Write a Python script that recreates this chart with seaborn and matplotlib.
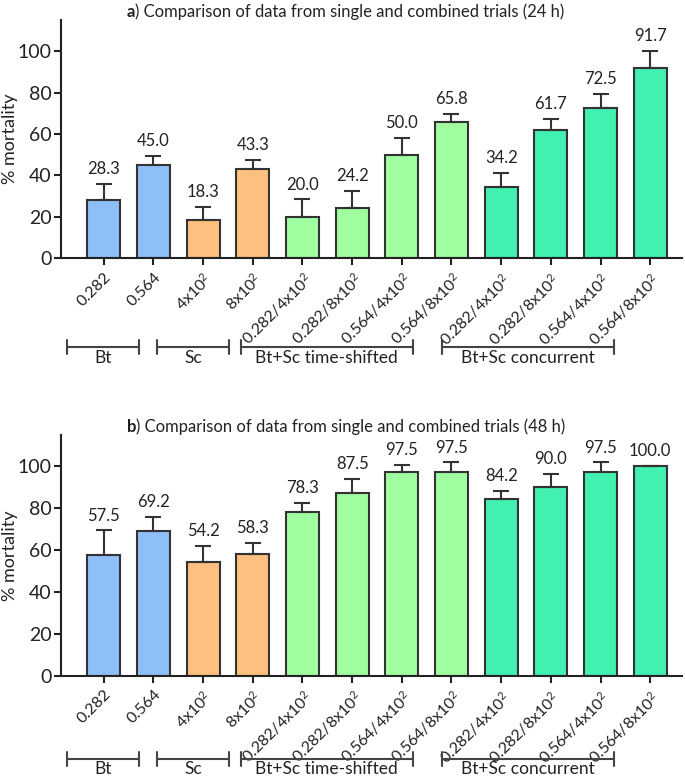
import matplotlib
matplotlib.use("Agg")
import matplotlib.pyplot as plt
import matplotlib.transforms as mtransforms
import seaborn as sns
import numpy as np
import pandas as pd

# data
labels = ["0.282", "0.564", r"4x10$^2$", r"8x10$^2$",
          r"0.282/4x10$^2$", r"0.282/8x10$^2$", r"0.564/4x10$^2$", r"0.564/8x10$^2$",
          r"0.282/4x10$^2$ ", r"0.282/8x10$^2$ ", r"0.564/4x10$^2$ ", r"0.564/8x10$^2$ "]
mort_24h = [28.3, 45.0, 18.3, 43.3, 20.0, 24.2, 50.0, 65.8, 34.2, 61.7, 72.5, 91.7]
err_24h = [7.5, 4.4, 6.3, 4.0, 8.4, 8.1, 7.9, 3.7, 7.2, 5.4, 7.0, 8.2]
mort_48h = [57.5, 69.2, 54.2, 58.3, 78.3, 87.5, 97.5, 97.5, 84.2, 90.0, 97.5, 100.0]
err_48h = [11.9, 6.6, 8.0, 5.2, 4.4, 6.3, 3.1, 4.4, 3.9, 6.6, 4.4, 0.0]
groups = ["Bt", "Bt", "Sc", "Sc", "ts", "ts", "ts", "ts", "cc", "cc", "cc", "cc"]
group_colors = {"Bt": "#8FBFF8", "Sc": "#FFBF7E", "ts": "#A0FFA0", "cc": "#42F0B0"}
brackets = [("Bt", -0.74, 0.70), ("Sc", 1.08, 2.52), ("Bt+Sc time-shifted", 2.76, 6.22),
            ("Bt+Sc concurrent", 6.8, 10.28)]

sns.set_style("ticks")
plt.rcParams["font.family"] = ["Lato", "DejaVu Sans"]
plt.rcParams["mathtext.fontset"] = "custom"
plt.rcParams["mathtext.rm"] = "Lato"
plt.rcParams["mathtext.it"] = "Lato"

edge = "#333333"
fig = plt.figure(figsize=(6.85, 7.82), dpi=100)

panels = [
    ("a", "24 h", mort_24h, err_24h, [0.0891, 0.6697, 0.9065, 0.3047], 0.985, 0.556),
    ("b", "48 h", mort_48h, err_48h, [0.0891, 0.1359, 0.9065, 0.3078], 0.454, 0.03),
]

for letter, hours, vals, errs, pos, title_y, br_y in panels:
    ax = fig.add_axes(pos)
    df = pd.DataFrame({"label": labels, "value": vals, "group": groups})
    sns.barplot(data=df, x="label", y="value", hue="group", palette=group_colors,
                dodge=False, legend=False, width=0.66, saturation=1, edgecolor=edge,
                linewidth=1.5, ax=ax)
    x = np.arange(len(vals))
    ax.errorbar(x, vals, yerr=[np.zeros(len(errs)), errs], fmt="none", ecolor=edge,
                elinewidth=1.5, capsize=6, capthick=1.5, zorder=1)
    for xi, v, e in zip(x, vals, errs):
        ax.annotate(f"{v:.1f}", (xi, v + e), xytext=(0, 5), textcoords="offset points",
                    ha="center", va="bottom", fontsize=12, color="#222222")
    ax.set_xlim(-0.86, 11.64)
    ax.set_ylim(0, 115)
    ax.set_yticks([0, 20, 40, 60, 80, 100])
    ax.set_xlabel("")
    ax.set_ylabel("% mortality", fontsize=13, color="#222222")
    ax.yaxis.set_label_coords(-0.07, 0.5)
    ax.tick_params(axis="y", labelsize=14, width=1.5, length=5, colors="#222222", pad=2)
    ax.tick_params(axis="x", labelsize=11.5, width=1.5, length=5, colors="#222222")
    plt.setp(ax.get_xticklabels(), rotation=45, ha="right", rotation_mode="anchor")
    sns.despine(ax=ax)
    for s in ["left", "bottom"]:
        ax.spines[s].set_linewidth(1.5)
        ax.spines[s].set_color("#222222")
    t = fig.text(0.185, title_y, letter, ha="left", va="center", fontsize=12,
                 fontweight="bold", color="#222222")
    ax.annotate(f") Comparison of data from single and combined trials ({hours})",
                xy=(1, 0), xycoords=t, va="bottom", ha="left", fontsize=12, color="#222222")
    trans = mtransforms.blended_transform_factory(ax.transData, fig.transFigure)
    for name, x0, x1 in brackets:
        ax.plot([x0, x1], [br_y, br_y], color="#444444", lw=1.5, transform=trans, clip_on=False)
        for xe in (x0, x1):
            ax.plot([xe, xe], [br_y - 0.009, br_y + 0.009], color="#444444", lw=1.5,
                    transform=trans, clip_on=False)
        ax.text((x0 + x1) / 2, br_y - 0.003, name, ha="center", va="top", fontsize=12.5,
                color="#222222", transform=trans)

fig.savefig("out.png", dpi=100)
